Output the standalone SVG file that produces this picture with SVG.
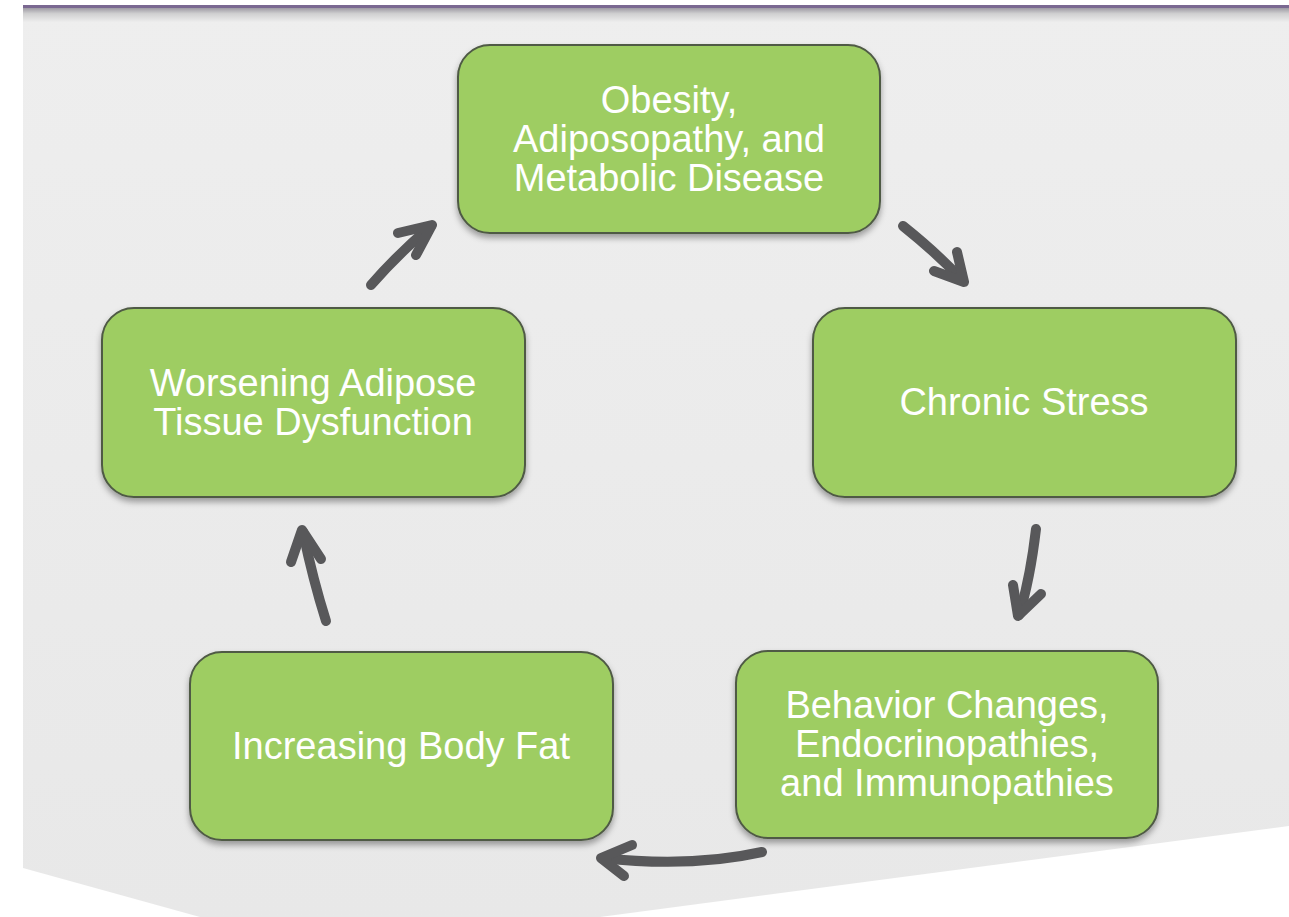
<svg xmlns="http://www.w3.org/2000/svg" width="1289" height="917" viewBox="0 0 1289 917">
<defs>
<linearGradient id="topg" x1="0" y1="0" x2="0" y2="1">
<stop offset="0" stop-color="#9d9aa3"/>
<stop offset="0.4" stop-color="#cfcfd0"/>
<stop offset="1" stop-color="#ededed"/>
</linearGradient>
<linearGradient id="bg" x1="0" y1="0" x2="0" y2="1">
<stop offset="0" stop-color="#eeeeee"/>
<stop offset="1" stop-color="#e8e8e8"/>
</linearGradient>
<filter id="sh" x="-10%" y="-10%" width="120%" height="130%">
<feDropShadow dx="0" dy="4" stdDeviation="3" flood-color="#000" flood-opacity="0.35"/>
</filter>
<style>
.box{fill:#9ecd62;stroke:#4f5a45;stroke-width:2;filter:url(#sh)}
.t{font-family:"Liberation Sans",Arial,sans-serif;font-size:38px;fill:#ffffff;text-anchor:middle}
.a{fill:none;stroke:#58585a;stroke-width:10;stroke-linecap:round;stroke-linejoin:round}
</style>
</defs>
<rect width="1289" height="917" fill="#ffffff"/>
<polygon points="23,5 1289,5 1289,826 600,917 200,917 23,868" fill="url(#bg)"/>
<rect x="23" y="8" width="1266" height="14" fill="url(#topg)"/>
<rect x="23" y="5" width="1266" height="3" fill="#7a6891"/>

<g id="connectors">
<path class="a" d="M371,285 Q398,254 431,226"/>
<path class="a" d="M398,233 L432,225 L416,255"/>
<path class="a" d="M903,226 Q938,254 963,281"/>
<path class="a" d="M957,252 L964,282 L934,271"/>
<path class="a" d="M1036,529 Q1030,580 1019,615"/>
<path class="a" d="M1013,585 L1018,616 L1041,594"/>
<path class="a" d="M762,852 Q690,868 603,858"/>
<path class="a" d="M632,845 L601,858 L624,876"/>
<path class="a" d="M326,621 Q313,580 303,532"/>
<path class="a" d="M291,562 L302,530 L321,559"/>
</g>

<g id="node-obesity">
<rect class="box" x="458" y="45" width="422" height="188" rx="32"/>
<text class="t" x="669" y="113">Obesity,</text>
<text class="t" x="669" y="152">Adiposopathy, and</text>
<text class="t" x="669" y="191">Metabolic Disease</text>
</g>
<g id="node-stress">
<rect class="box" x="813" y="308" width="423" height="189" rx="32"/>
<text class="t" x="1024" y="415">Chronic Stress</text>
</g>
<g id="node-behavior">
<rect class="box" x="736" y="651" width="422" height="187" rx="32"/>
<text class="t" x="947" y="718">Behavior Changes,</text>
<text class="t" x="947" y="757">Endocrinopathies,</text>
<text class="t" x="947" y="796">and Immunopathies</text>
</g>
<g id="node-bodyfat">
<rect class="box" x="190" y="652" width="423" height="188" rx="32"/>
<text class="t" x="401" y="759">Increasing Body Fat</text>
</g>
<g id="node-worsening">
<rect class="box" x="102" y="308" width="423" height="189" rx="32"/>
<text class="t" x="313" y="396">Worsening Adipose</text>
<text class="t" x="313" y="435">Tissue Dysfunction</text>
</g>
</svg>
